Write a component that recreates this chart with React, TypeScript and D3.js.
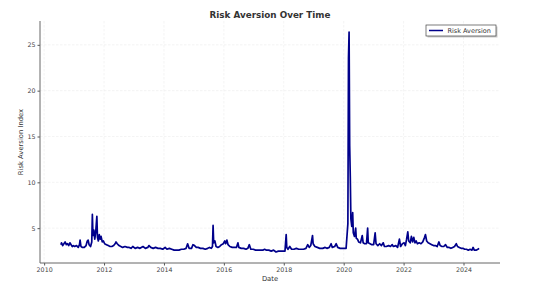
import { useEffect, useRef } from "react";
import * as d3 from "d3";

// decimal years
const dates = [
  2010.56, 2010.58, 2010.62, 2010.66, 2010.7, 2010.74, 2010.78, 2010.82, 2010.86, 2010.9, 2010.94, 2010.98,
  2011.02, 2011.08, 2011.14, 2011.18, 2011.2, 2011.23, 2011.28, 2011.34, 2011.4, 2011.44, 2011.47, 2011.5,
  2011.55, 2011.59, 2011.61, 2011.63, 2011.66, 2011.69, 2011.72, 2011.76, 2011.78, 2011.81, 2011.84, 2011.87,
  2011.9, 2011.94, 2011.98,
  2012.02, 2012.08, 2012.14, 2012.2, 2012.26, 2012.32, 2012.37, 2012.4, 2012.44, 2012.5, 2012.56, 2012.62,
  2012.7, 2012.78, 2012.84, 2012.9, 2012.96,
  2013.04, 2013.12, 2013.2, 2013.3, 2013.38, 2013.46, 2013.5, 2013.56, 2013.64, 2013.72, 2013.8, 2013.88, 2013.96,
  2014.04, 2014.1, 2014.18, 2014.26, 2014.34, 2014.42, 2014.5, 2014.58, 2014.66, 2014.74, 2014.79, 2014.84,
  2014.92, 2014.97,
  2015.02, 2015.08, 2015.14, 2015.22, 2015.3, 2015.38, 2015.46, 2015.52, 2015.58, 2015.62, 2015.64, 2015.66,
  2015.7, 2015.74, 2015.8, 2015.86, 2015.92, 2015.98,
  2016.03, 2016.06, 2016.1, 2016.14, 2016.2, 2016.28, 2016.36, 2016.42, 2016.47, 2016.5, 2016.58, 2016.66,
  2016.74, 2016.8, 2016.85, 2016.9, 2016.98,
  2017.06, 2017.14, 2017.22, 2017.3, 2017.36, 2017.42, 2017.5, 2017.58, 2017.66, 2017.74, 2017.82, 2017.9, 2017.98,
  2018.04, 2018.08, 2018.1, 2018.14, 2018.2, 2018.26, 2018.34, 2018.42, 2018.5, 2018.58, 2018.66, 2018.74,
  2018.8, 2018.85, 2018.9, 2018.96, 2018.98,
  2019.04, 2019.12, 2019.2, 2019.3, 2019.38, 2019.44, 2019.52, 2019.58, 2019.62, 2019.7, 2019.75, 2019.8,
  2019.88, 2019.96,
  2020.04, 2020.08, 2020.12, 2020.14, 2020.16, 2020.18, 2020.2, 2020.22, 2020.24, 2020.27, 2020.3, 2020.32,
  2020.36, 2020.4, 2020.42, 2020.46, 2020.5, 2020.56, 2020.62, 2020.65, 2020.7, 2020.76, 2020.8, 2020.82,
  2020.88, 2020.94,
  2021.0, 2021.05, 2021.08, 2021.14, 2021.2, 2021.26, 2021.32, 2021.36, 2021.42, 2021.5, 2021.56, 2021.62,
  2021.66, 2021.74, 2021.8, 2021.86, 2021.9, 2021.96,
  2022.02, 2022.06, 2022.1, 2022.14, 2022.17, 2022.22, 2022.26, 2022.3, 2022.34, 2022.38, 2022.42, 2022.46,
  2022.52, 2022.58, 2022.64, 2022.7, 2022.73, 2022.77, 2022.82, 2022.88, 2022.94,
  2023.0, 2023.06, 2023.12, 2023.18, 2023.22, 2023.28, 2023.34, 2023.4, 2023.46, 2023.52, 2023.58, 2023.64,
  2023.7, 2023.76, 2023.8, 2023.86, 2023.92, 2023.98,
  2024.04, 2024.1, 2024.16, 2024.22, 2024.28, 2024.32, 2024.36, 2024.42, 2024.48, 2024.52,
];

const riskAversion = [
  3.2, 3.4, 3.1, 3.3, 3.5, 3.2, 3.3, 3.1, 3.4, 3.2, 3.0, 3.1,
  3.0, 3.1, 2.9, 3.2, 3.7, 3.0, 2.9, 2.9, 3.1, 3.6, 3.7, 3.2,
  3.0, 3.5, 6.5, 4.2, 4.8, 3.8, 4.5, 6.3, 4.0, 3.6, 4.3, 3.8,
  4.1, 3.5, 3.6,
  3.3, 3.2, 3.1, 3.0, 3.0, 3.1, 3.3, 3.5, 3.3, 3.1, 3.0, 2.9,
  3.0, 2.9, 2.9, 2.8, 3.0,
  2.8, 2.9, 2.8, 3.0, 2.8, 2.9, 3.1, 2.9, 2.8, 2.9, 2.8, 2.8, 2.7,
  2.9, 2.7, 2.8, 2.7, 2.6, 2.6, 2.6, 2.7, 2.7, 2.8, 3.3, 2.8,
  2.8, 3.2,
  3.1, 2.9, 2.9, 2.8, 2.8, 2.7, 2.8, 2.9, 2.8, 3.0, 5.3, 3.4,
  3.6, 3.0, 2.9, 3.0, 3.2, 3.3,
  3.6, 3.3, 3.7, 3.2, 3.0, 2.9, 2.9, 2.9, 3.4, 2.9, 2.8, 2.8,
  2.7, 2.8, 3.2, 2.7, 2.7,
  2.6, 2.6, 2.6, 2.6, 2.7, 2.6, 2.6, 2.5, 2.6, 2.4, 2.5, 2.5, 2.5,
  2.5, 4.3, 2.9, 2.7, 3.0, 2.7, 2.7, 2.8, 2.7, 2.7, 2.7, 2.8,
  3.2, 2.9, 3.1, 4.2, 3.3,
  3.0, 2.9, 2.8, 2.8, 2.9, 2.8, 2.9, 3.3, 2.9, 3.0, 3.3, 2.9,
  2.8, 2.8,
  2.8, 2.8, 4.6, 5.5, 23.5, 26.4, 14.0, 10.6, 6.0, 5.2, 6.7, 4.5,
  4.1, 5.0, 3.9, 3.8, 3.5, 3.4, 4.2, 3.4, 3.3, 3.3, 5.0, 3.4,
  3.3, 3.2,
  3.2, 4.5, 3.3, 3.1, 3.3, 3.1, 3.4, 3.0, 3.0, 3.1, 3.0, 3.2,
  3.0, 3.1, 2.9, 3.8, 3.0, 3.3,
  3.4, 3.1, 3.8, 4.6, 3.6, 3.4, 4.1, 3.5, 4.0, 3.4, 3.6, 3.3,
  3.4, 3.3, 3.5, 4.0, 4.3, 3.6, 3.4, 3.3, 3.2,
  3.1, 3.1, 3.0, 3.5, 3.1, 3.0, 3.0, 3.2, 2.9, 2.9, 2.8, 2.9,
  3.0, 3.3, 3.0, 2.9, 2.8, 2.8,
  2.7, 2.7, 2.6, 2.7, 2.6, 2.9, 2.6, 2.6, 2.7, 2.8,
];

const xTicks = [2010, 2012, 2014, 2016, 2018, 2020, 2022, 2024];
const yTicks = [5, 10, 15, 20, 25];

const W = 546;
const H = 288;
const FONT = "DejaVu Sans, sans-serif";

export default function App() {
  const svgRef = useRef<SVGSVGElement>(null);

  useEffect(() => {
    if (!svgRef.current) return;
    const margin = { top: 21, right: 46, bottom: 25, left: 40 };
    const width = W - margin.left - margin.right;
    const height = H - margin.top - margin.bottom;

    const svg = d3.select(svgRef.current);
    svg.selectAll("*").remove();

    const g = svg.append("g").attr("transform", `translate(${margin.left},${margin.top})`);

    // matplotlib-style 5% padding
    const [x0, x1] = d3.extent(dates) as [number, number];
    const [y0, y1] = d3.extent(riskAversion) as [number, number];
    const xPad = (x1 - x0) * 0.05;
    const yPad = (y1 - y0) * 0.05;

    const x = d3.scaleLinear().domain([x0 - xPad, x1 + xPad]).range([0, width]);
    const y = d3.scaleLinear().domain([y0 - yPad, y1 + yPad]).range([height, 0]);

    // Grid
    g.append("g")
      .selectAll("line")
      .data(xTicks)
      .join("line")
      .attr("x1", (d) => x(d))
      .attr("x2", (d) => x(d))
      .attr("y1", 0)
      .attr("y2", height)
      .attr("stroke", "#ececec")
      .attr("stroke-width", 0.6)
      .attr("stroke-dasharray", "2.5,1.5");

    g.append("g")
      .selectAll("line")
      .data(yTicks)
      .join("line")
      .attr("x1", 0)
      .attr("x2", width)
      .attr("y1", (d) => y(d))
      .attr("y2", (d) => y(d))
      .attr("stroke", "#ececec")
      .attr("stroke-width", 0.6)
      .attr("stroke-dasharray", "2.5,1.5");

    // Axes
    const xAxis = g
      .append("g")
      .attr("transform", `translate(0,${height})`)
      .call(d3.axisBottom(x).tickValues(xTicks).tickFormat(d3.format("d")).tickSize(2.5).tickPadding(2));
    const yAxis = g
      .append("g")
      .call(d3.axisLeft(y).tickValues(yTicks).tickFormat(d3.format("d")).tickSize(2.5).tickPadding(2));

    [xAxis, yAxis].forEach((ax) => {
      ax.select(".domain").remove();
      ax.selectAll("line").attr("stroke", "#555");
      ax.selectAll("text")
        .style("font-family", FONT)
        .style("font-size", "6.3px")
        .attr("fill", "#444");
    });

    // spines (left + bottom only)
    g.append("line")
      .attr("x1", 0).attr("x2", 0).attr("y1", 0).attr("y2", height)
      .attr("stroke", "#666").attr("stroke-width", 1);
    g.append("line")
      .attr("x1", 0).attr("x2", width).attr("y1", height).attr("y2", height)
      .attr("stroke", "#666").attr("stroke-width", 1);

    // Line
    const pts = dates.map((d, i) => [d, riskAversion[i]] as [number, number]);
    const line = d3
      .line<[number, number]>()
      .x((d) => x(d[0]))
      .y((d) => y(d[1]));

    g.append("path")
      .datum(pts)
      .attr("d", line)
      .attr("fill", "none")
      .attr("stroke", "#00008b")
      .attr("stroke-width", 1.7)
      .attr("stroke-linejoin", "round");

    // Title & labels
    svg.append("text")
      .attr("x", margin.left + width / 2)
      .attr("y", 18)
      .attr("text-anchor", "middle")
      .style("font-family", FONT)
      .style("font-size", "8.8px")
      .style("font-weight", "bold")
      .attr("fill", "#333")
      .text("Risk Aversion Over Time");

    svg.append("text")
      .attr("x", margin.left + width / 2)
      .attr("y", 281)
      .attr("text-anchor", "middle")
      .style("font-family", FONT)
      .style("font-size", "6.8px")
      .attr("fill", "#333")
      .text("Date");

    svg.append("text")
      .attr("transform", "rotate(-90)")
      .attr("x", -(margin.top + height / 2))
      .attr("y", 23)
      .attr("text-anchor", "middle")
      .style("font-family", FONT)
      .style("font-size", "6.8px")
      .attr("fill", "#333")
      .text("Risk Aversion Index");

    // Legend
    const lg = svg.append("g").attr("transform", "translate(426,25)");
    lg.append("rect")
      .attr("x", 1.5).attr("y", 1.5).attr("width", 70).attr("height", 11)
      .attr("fill", "#999").attr("opacity", 0.5);
    lg.append("rect")
      .attr("width", 70).attr("height", 11)
      .attr("fill", "#fff").attr("stroke", "#444").attr("stroke-width", 0.7);
    lg.append("line")
      .attr("x1", 3).attr("x2", 17).attr("y1", 5.5).attr("y2", 5.5)
      .attr("stroke", "#00008b").attr("stroke-width", 1.5);
    lg.append("text")
      .attr("x", 21.5).attr("y", 8)
      .style("font-family", FONT)
      .style("font-size", "6.5px")
      .attr("fill", "#333")
      .text("Risk Aversion");
  }, []);

  return (
    <svg
      ref={svgRef}
      width={W}
      height={H}
      style={{ position: "absolute", left: 0, top: 0, background: "#fff" }}
    />
  );
}
